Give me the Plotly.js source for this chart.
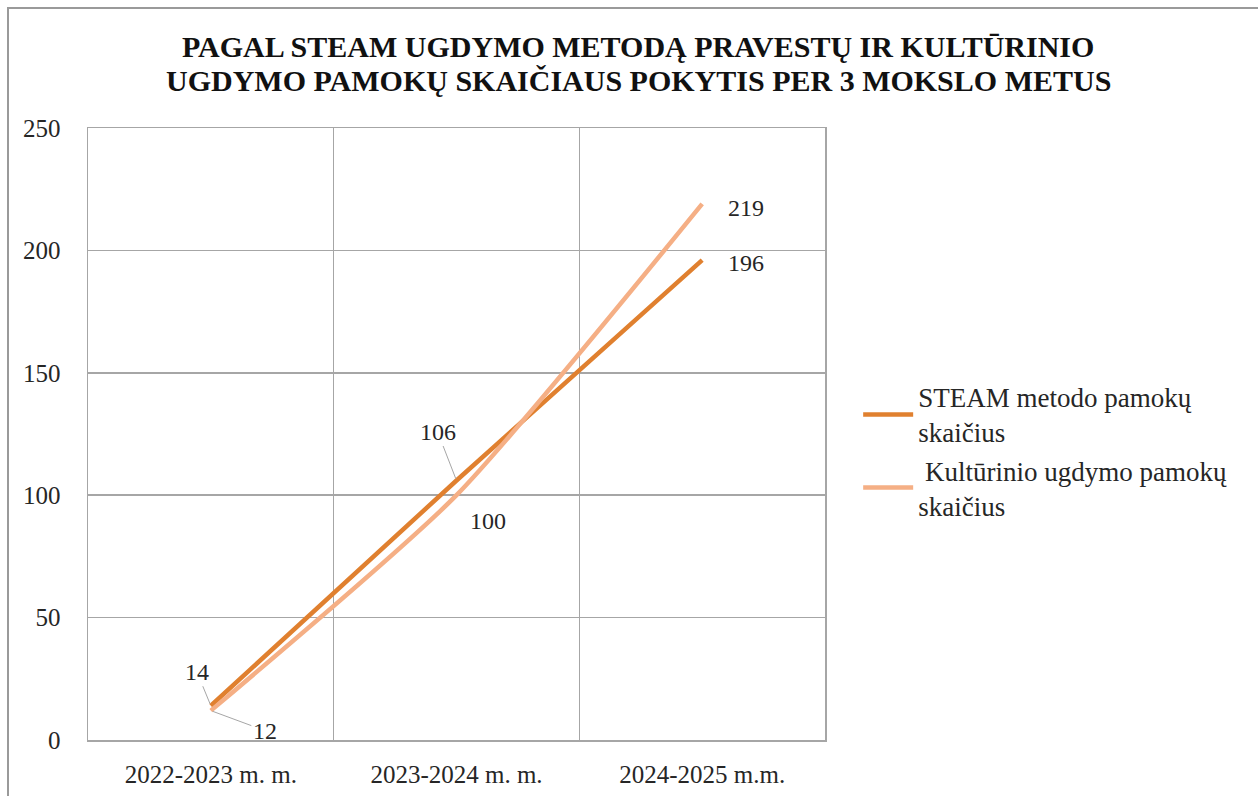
<!DOCTYPE html>
<html>
<head>
<meta charset="utf-8">
<script src="https://cdn.plot.ly/plotly-3.0.1.min.js"></script>
<style>
html,body{margin:0;padding:0;background:#fff;}
#chart{position:absolute;left:0;top:0;width:1258px;height:796px;}
#frame{position:absolute;left:7px;top:7px;width:1300px;height:850px;border-left:2px solid #9a9a9a;border-top:2px solid #9a9a9a;pointer-events:none;}
</style>
</head>
<body>
<div id="chart"></div>
<div id="frame"></div>
<script>
const categories = ["2022-2023 m. m.", "2023-2024 m. m.", "2024-2025 m.m."];
const steamValues = [14, 106, 196];
const kultValues = [12, 100, 219];
const seriesNames = ["STEAM metodo pamokų<br>skaičius", " Kultūrinio ugdymo pamokų<br>skaičius"];
const titleLines = ["PAGAL STEAM UGDYMO METODĄ PRAVESTŲ IR KULTŪRINIO", "UGDYMO PAMOKŲ SKAIČIAUS POKYTIS PER 3 MOKSLO METUS"];

const serif = "'Liberation Serif', 'Times New Roman', serif";

const traces = [
  {
    x: categories, y: steamValues, type: "scatter", mode: "lines",
    name: seriesNames[0],
    line: {color: "#E0802F", width: 4.5, shape: "spline", smoothing: 0.6}
  },
  {
    x: categories, y: kultValues, type: "scatter", mode: "lines",
    name: seriesNames[1],
    line: {color: "#F5AF85", width: 4.5, shape: "spline", smoothing: 0.6}
  }
];

const lblFont = {family: serif, size: 24, color: "#262626"};
const titleFont = {family: serif, size: 30, color: "#111"};
const annotations = [
  {xref: "paper", yref: "paper", x: 0.7463, y: 1.1324, xanchor: "center", yanchor: "middle", showarrow: false, text: "<b>" + titleLines[0] + "</b>", font: titleFont},
  {xref: "paper", yref: "paper", x: 0.7463, y: 1.0784, xanchor: "center", yanchor: "middle", showarrow: false, text: "<b>" + titleLines[1] + "</b>", font: titleFont},
  {x: categories[0], y: steamValues[0], text: String(steamValues[0]), showarrow: true, ax: -14, ay: -34, arrowhead: 0, arrowwidth: 1, arrowcolor: "#a6a6a6", standoff: 2, font: lblFont},
  {x: categories[0], y: kultValues[0], text: String(kultValues[0]), showarrow: true, ax: 54, ay: 20, arrowhead: 0, arrowwidth: 1, arrowcolor: "#a6a6a6", standoff: 2, font: lblFont},
  {x: categories[1], y: steamValues[1], text: String(steamValues[1]), showarrow: true, ax: -19, ay: -49, arrowhead: 0, arrowwidth: 1, arrowcolor: "#a6a6a6", standoff: 2, font: lblFont},
  {x: categories[1], y: kultValues[1], text: String(kultValues[1]), showarrow: false, xshift: 31, yshift: -26, font: lblFont},
  {x: categories[2], y: kultValues[2], text: String(kultValues[2]), showarrow: false, xshift: 44, yshift: -4, font: lblFont},
  {x: categories[2], y: steamValues[2], text: String(steamValues[2]), showarrow: false, xshift: 44, yshift: -3, font: lblFont}
];

const layout = {
  width: 1258, height: 796,
  margin: {l: 88, r: 433, t: 128, b: 56},
  paper_bgcolor: "#ffffff", plot_bgcolor: "#ffffff",
  xaxis: {
    type: "category", tickson: "boundaries", range: [-0.5, 2.5],
    showgrid: true, gridcolor: "#a6a6a6", gridwidth: 1.5,
    showline: true, linecolor: "#a6a6a6", linewidth: 1.5, mirror: true,
    ticks: "", ticklabelstandoff: 11,
    tickfont: {family: serif, size: 25, color: "#262626"},
    fixedrange: true
  },
  yaxis: {
    range: [0, 250], dtick: 50, tick0: 0,
    showgrid: true, gridcolor: "#a6a6a6", gridwidth: 1.5,
    showline: true, linecolor: "#a6a6a6", linewidth: 1.5, mirror: true,
    zeroline: false,
    ticks: "", ticklabelstandoff: 21,
    tickfont: {family: serif, size: 25, color: "#262626"},
    fixedrange: true
  },
  showlegend: true,
  legend: {
    x: 1.045, xanchor: "left", y: 0.6, yanchor: "top",
    font: {family: serif, size: 27, color: "#262626"},
    itemwidth: 50, bgcolor: "rgba(0,0,0,0)"
  },
  annotations: annotations
};

Plotly.newPlot("chart", traces, layout, {displayModeBar: false, staticPlot: true});
</script>
</body>
</html>
